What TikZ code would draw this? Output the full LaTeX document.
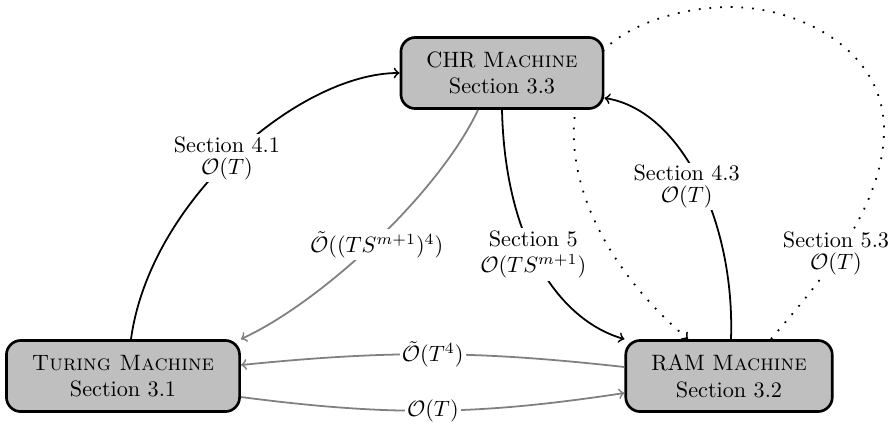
\documentclass[tikz,border=0pt]{standalone}
\usetikzlibrary{calc}
\pgfdeclarelayer{bg}
\pgfsetlayers{bg,main}
\begin{document}
\begin{tikzpicture}[x=0.45pt,y=-0.45pt,
  machine/.style={draw=black, very thick, fill=lightgray, rounded corners=6.5pt, align=center, inner xsep=11.5pt, minimum height=32pt},
  lbl/.style={fill=white, text=black, align=center, inner sep=1pt},
  blk/.style={->, thick, black},
  gry/.style={->, thick, gray},
  dots/.style={->, thick, loosely dotted}]
\useasboundingbox (0,0) rectangle (894,424);
\node[machine] (chr) at (502,73) {CHR \textsc{Machine}\\ Section 3.3};
\node[machine] (tm) at (123,376) {\textsc{Turing Machine}\\ Section 3.1};
\node[machine] (ram) at (729,376) {RAM \textsc{Machine}\\ Section 3.2};
\coordinate (loopE) at (884,130);
\coordinate (loopT) at (730,7);
\coordinate (loopW) at (607,47);

\draw[blk] ($(tm.north)+(8,0)$) .. controls +(19,-139) and +(-100,0) .. (chr.west)
  node[lbl,pos=0.5,xshift=-3.6pt,yshift=-2pt] {Section 4.1\\[-2pt]$\mathcal{O}(T)$};
\draw[gry] ($(chr.south)+(-24,0)$) .. controls +(-38,81) and +(84,-39) .. (tm.north east)
  node[lbl,pos=0.5,yshift=-2pt] {$\tilde{\mathcal{O}}((TS^{m+1})^4)$};
\draw[blk] (chr.south) .. controls +(3,131) and +(-66,-19) .. (ram.north west)
  node[lbl,pos=0.45] {Section 5\\$\mathcal{O}(TS^{m+1})$};
\draw[blk] ($(ram.north)+(2,0)$) .. controls +(4,-119) and +(76,12) .. ($(chr.east)+(0,25)$)
  node[lbl,pos=0.47,xshift=-6.75pt] {Section 4.3\\[-2pt]$\mathcal{O}(T)$};
\draw[gry] ($(ram.west)+(0,-9)$) to[bend right=6] node[lbl] {$\tilde{\mathcal{O}}(T^4)$} ($(tm.east)+(0,-11)$);
\draw[gry] ($(tm.east)+(0,21)$) to[bend right=8] node[lbl] {$\mathcal{O}(T)$} ($(ram.west)+(0,17)$);

\begin{pgfonlayer}{bg}
\draw[dots] ($(ram.north)+(42,0)$) .. controls +(44,-52) and +(0,80) .. (loopE)
  node[lbl,pos=0.5,xshift=-3.6pt,yshift=-3.6pt] {Section 5.3\\[-2pt]$\mathcal{O}(T)$}
  .. controls +(0,-80) and +(70,0) .. (loopT)
  .. controls +(-50,0) and +(23,-22) .. (loopW)
  .. controls +(-57,53) and +(-128,-110) .. ($(ram.north)+(-41,0)$);
\end{pgfonlayer}
\end{tikzpicture}
\end{document}
